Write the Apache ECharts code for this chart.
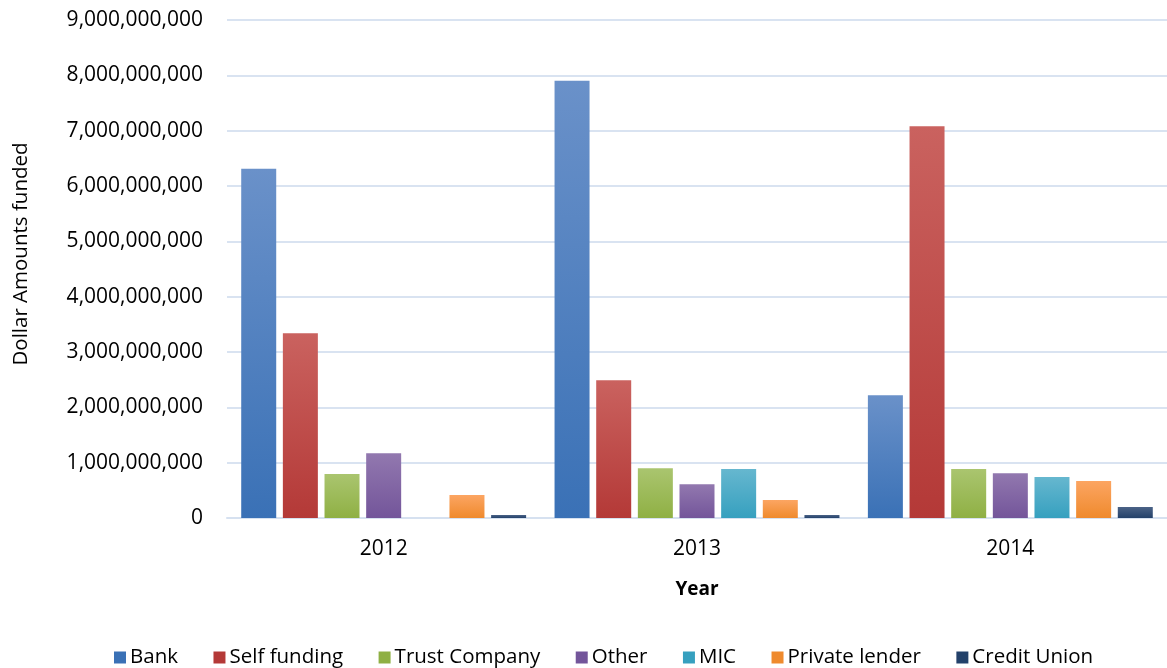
<!DOCTYPE html>
<html>
<head>
<meta charset="utf-8">
<style>
  html, body { margin: 0; padding: 0; background: #fff; }
  #chart { width: 1167px; height: 668px; }
</style>
<script src="https://cdn.jsdelivr.net/npm/echarts@6/dist/echarts.min.js"></script>
</head>
<body>
<div id="chart"></div>
<script>
// categories
var years = ['2012', '2013', '2014'];

// values per lender type (dollars)
var bank          = [6310000000, 7900000000, 2220000000];
var selfFunding   = [3340000000, 2490000000, 7080000000];
var trustCompany  = [795000000,  900000000,  885000000];
var other         = [1170000000, 610000000,  810000000];
var mic           = [0,          885000000,  740000000];
var privateLender = [415000000,  325000000,  670000000];
var creditUnion   = [55000000,   55000000,   200000000];

var seriesNames = ['Bank', 'Self funding', 'Trust Company', 'Other', 'MIC', 'Private lender', 'Credit Union'];
var seriesData = [bank, selfFunding, trustCompany, other, mic, privateLender, creditUnion];
// gradient top / bottom
var colors = [
  ['#6a91c9', '#3a71b6'],
  ['#ca625f', '#b43937'],
  ['#aac56f', '#8fb044'],
  ['#9278af', '#73559a'],
  ['#66b7cf', '#36a0bf'],
  ['#fca562', '#ef8a2d'],
  ['#4b6387', '#23416a']
];

var font = 'Open Sans';

var myChart = echarts.init(document.getElementById('chart'));

var series = seriesNames.map(function (name, i) {
  return {
    name: name,
    type: 'bar',
    barWidth: 35,
    barGap: '19%',
    data: seriesData[i],
    itemStyle: {
      color: new echarts.graphic.LinearGradient(0, 0, 0, 1, [
        { offset: 0, color: colors[i][0] },
        { offset: 1, color: colors[i][1] }
      ])
    }
  };
});

var option = {
  animation: false,
  grid: {
    left: 227,
    right: 0,
    top: 20,
    bottom: 150,
    containLabel: false,
    outerBoundsMode: 'none'
  },
  legend: {
    data: seriesNames.map(function (n, i) {
      return { name: n, itemStyle: { color: colors[i][1] } };
    }),
    left: 109,
    top: 642,
    icon: 'rect',
    itemWidth: 12,
    itemHeight: 12,
    itemGap: 35.5,
    textStyle: {
      fontFamily: font,
      fontSize: 20.5,
      color: '#000',
      padding: [0, 0, 0, -1]
    }
  },
  xAxis: {
    type: 'category',
    data: years,
    name: 'Year',
    nameLocation: 'middle',
    nameGap: 62,
    nameTextStyle: {
      fontFamily: font,
      fontSize: 19,
      fontWeight: 'bold',
      color: '#000'
    },
    axisTick: { show: false },
    axisLine: {
      lineStyle: { color: '#d6e1f0', width: 2 }
    },
    axisLabel: {
      margin: 21,
      fontFamily: font,
      fontSize: 21,
      color: '#000'
    }
  },
  yAxis: {
    type: 'value',
    min: 0,
    max: 9000000000,
    interval: 1000000000,
    name: 'Dollar Amounts funded',
    nameLocation: 'middle',
    nameRotate: 90,
    nameGap: 195,
    nameTextStyle: {
      fontFamily: font,
      fontSize: 20.5,
      color: '#000',
      padding: [0, 0, 0, 30]
    },
    axisLine: { show: false },
    axisTick: { show: false },
    axisLabel: {
      margin: 24,
      fontFamily: font,
      fontSize: 21,
      color: '#000',
      formatter: function (v) {
        return v.toLocaleString('en-US');
      }
    },
    splitLine: {
      lineStyle: { color: '#d9e3f1', width: 2 }
    }
  },
  series: series
};

myChart.setOption(option);
</script>
</body>
</html>
